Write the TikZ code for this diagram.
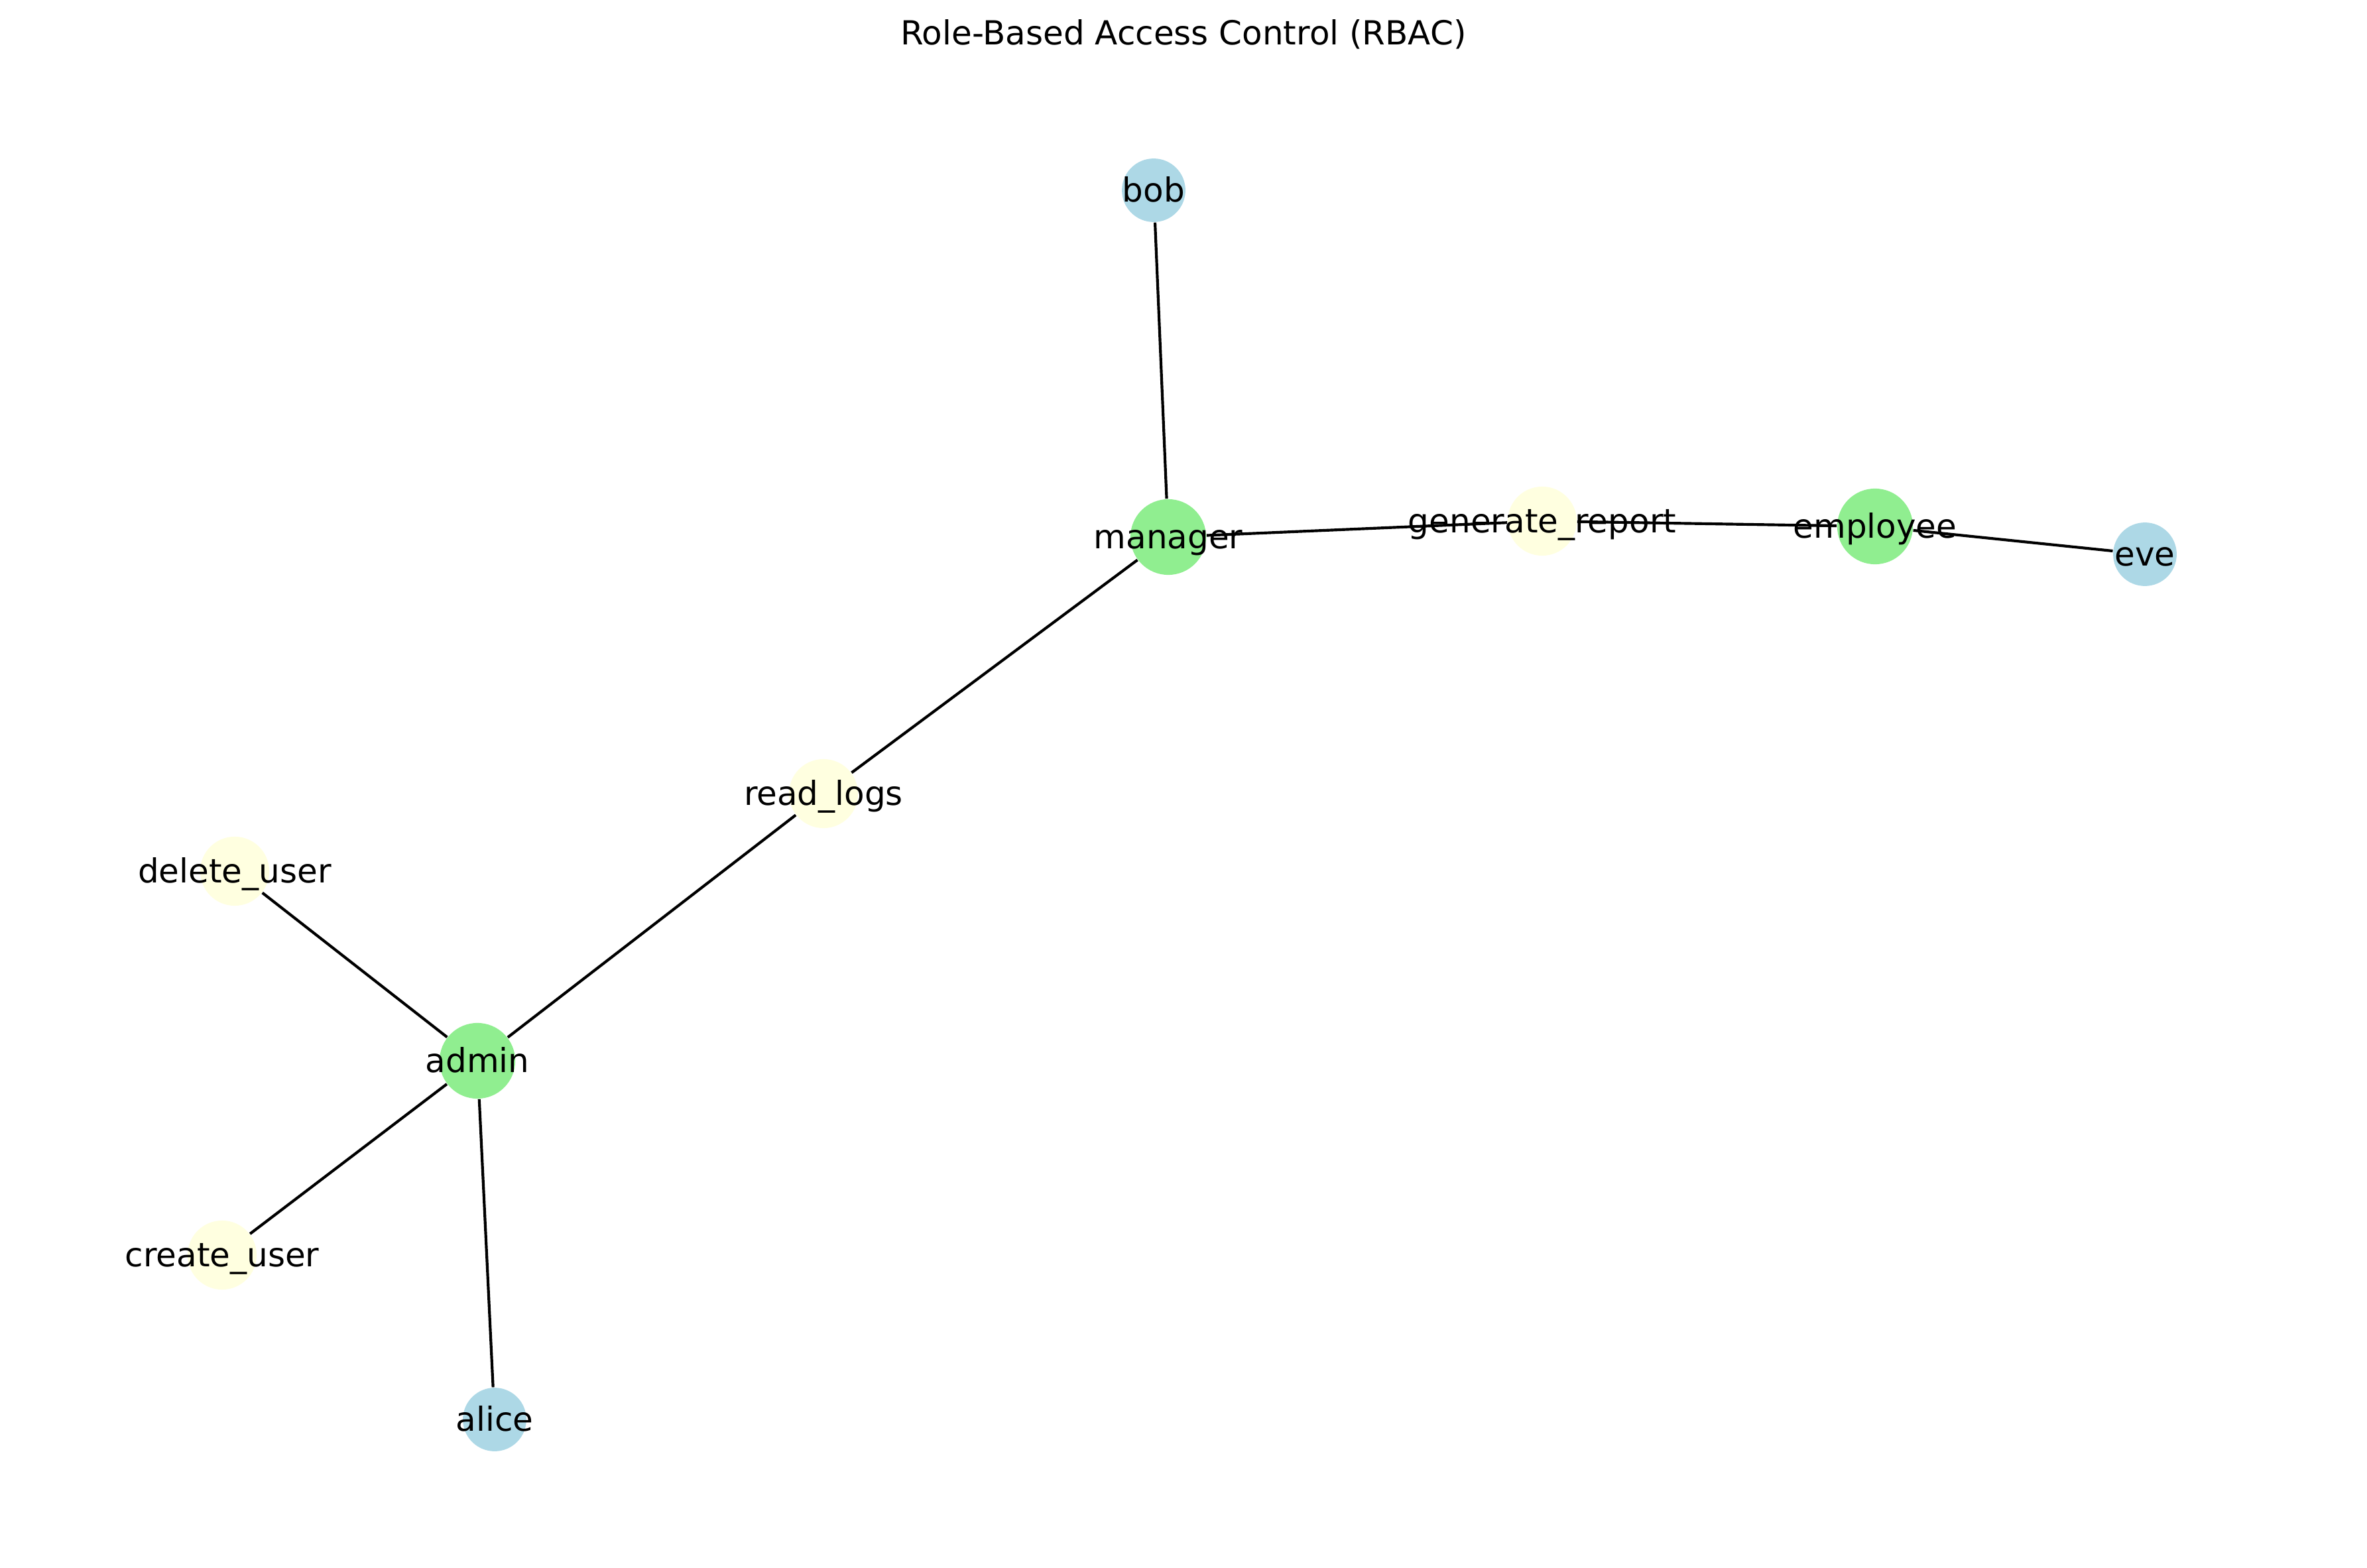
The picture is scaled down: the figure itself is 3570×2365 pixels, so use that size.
\documentclass[tikz,border=0pt]{standalone}
\usepackage{tikz}
\usepackage{xcolor}
\usepackage{fontspec}
\setmainfont{DejaVu Sans}

\definecolor{rolegreen}{HTML}{90EE90}
\definecolor{userblue}{HTML}{ADD8E6}
\definecolor{permyellow}{HTML}{FFFFE0}

\begin{document}
\begin{tikzpicture}[x=0.24pt,y=-0.24pt,
        role/.style={circle,fill=rolegreen,inner sep=0pt,minimum size=27.4pt},
        perm/.style={circle,fill=permyellow,inner sep=0pt,minimum size=25pt},
        user/.style={circle,fill=userblue,inner sep=0pt,minimum size=23pt},
        every label/.style={font=\fontsize{12}{14}\selectfont,text height=11.16pt,text depth=2.88pt,inner sep=0pt}]
            \useasboundingbox (0,0) rectangle (3570,2365);
            \node (title) at (1785,68) [anchor=base,font=\fontsize{12}{14}\selectfont] {Role-Based Access Control (RBAC)};
            \node (bob) at (1740,287) [user,label=center:bob] {};
            \node (manager) at (1762,810) [role,label=center:manager] {};
            \node (genrep) at (2326,786) [perm,label=center:generate\_report] {};
            \node (employee) at (2828,794) [role,label=center:employee] {};
            \node (eve) at (3235,836) [user,label=center:eve] {};
            \node (readlogs) at (1242,1197) [perm,label=center:read\_logs] {};
            \node (deluser) at (354,1314) [perm,label=center:delete\_user] {};
            \node (admin) at (720,1600) [role,label=center:admin] {};
            \node (creuser) at (335,1893) [perm,label=center:create\_user] {};
            \node (alice) at (746,2141) [user,label=center:alice] {};
            \draw[line width=1pt] (bob) -- (manager) (manager) -- (genrep) (genrep) -- (employee)
                (employee) -- (eve) (manager) -- (readlogs) (readlogs) -- (admin)
                (admin) -- (deluser) (admin) -- (creuser) (admin) -- (alice);
        \end{tikzpicture}
\end{document}
